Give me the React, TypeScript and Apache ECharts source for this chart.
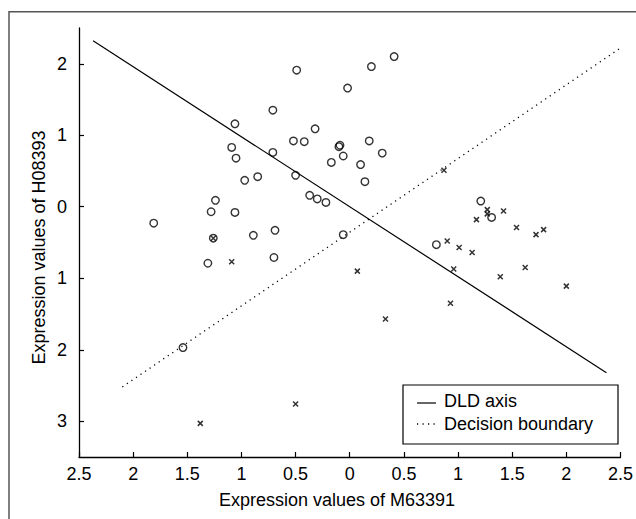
import React, { useEffect, useRef } from "react";
import * as echarts from "echarts";

// Class 1 samples (circles): [M63391, H08393]
const circlePoints: number[][] = [
  [-1.06, 1.16], [-1.09, 0.83], [-1.05, 0.68], [-0.97, 0.37], [-0.85, 0.42],
  [-1.24, 0.09], [-1.28, -0.07], [-1.06, -0.08], [-1.81, -0.23], [-0.49, 1.91],
  [0.20, 1.96], [0.41, 2.10], [-0.02, 1.66], [-0.71, 1.35], [-0.32, 1.09],
  [-0.52, 0.92], [-0.42, 0.91], [-0.10, 0.84], [-0.09, 0.86], [0.18, 0.92],
  [-0.71, 0.76], [-0.06, 0.71], [0.30, 0.75], [-0.17, 0.62], [0.10, 0.59],
  [-0.50, 0.44], [0.14, 0.35], [-0.37, 0.16], [-0.30, 0.11], [-0.22, 0.06],
  [-0.69, -0.33], [-0.89, -0.40], [-1.26, -0.44], [-1.31, -0.79], [-1.54, -1.97],
  [-0.70, -0.71], [-0.06, -0.39], [1.21, 0.08], [1.31, -0.15], [0.80, -0.53],
];

// Class 2 samples (crosses)
const crossPoints: number[][] = [
  [-1.26, -0.44], [-1.09, -0.77], [0.07, -0.90], [0.33, -1.57], [0.87, 0.51],
  [1.27, -0.04], [1.27, -0.10], [1.42, -0.06], [1.17, -0.18], [1.54, -0.29],
  [1.72, -0.39], [1.79, -0.32], [0.90, -0.48], [1.01, -0.57], [1.13, -0.64],
  [0.96, -0.87], [1.62, -0.85], [1.39, -0.98], [2.00, -1.11], [0.93, -1.35],
  [-0.50, -2.76], [-1.38, -3.03],
];

const dldAxis: number[][] = [[-2.37, 2.32], [2.37, -2.32]];
const decisionBoundary: number[][] = [[-2.1, -2.52], [2.49, 2.21]];

const yTicks: number[] = [-3, -2, -1, 0, 1, 2];

const xTitle = "Expression values of M63391";
const yTitle = "Expression values of H08393";
const legendNames = ["DLD axis", "Decision boundary"];

const FONT = "'Liberation Sans', Arial, Helvetica, sans-serif";

export default function App() {
  const ref = useRef<HTMLDivElement>(null);

  useEffect(() => {
    if (!ref.current) return;
    const chart = echarts.init(ref.current, null, { renderer: "svg" });
    const absFmt = (v: number) => String(Math.abs(Math.round(v * 10) / 10));
    chart.setOption({
      animation: false,
      backgroundColor: "#ffffff",
      grid: { left: 79, top: 28, width: 544, height: 429, containLabel: false },
      xAxis: {
        type: "value",
        min: -2.5,
        max: 2.5,
        interval: 0.5,
        axisLine: { show: true, onZero: false, lineStyle: { color: "#000", width: 1.3 } },
        axisTick: { show: true, inside: true, length: 5, lineStyle: { color: "#000", width: 1.2 } },
        axisLabel: { color: "#000", fontSize: 18, fontFamily: FONT, margin: 8, formatter: absFmt },
        splitLine: { show: false },
      },
      yAxis: {
        type: "value",
        min: -3.5,
        max: 2.5,
        axisLine: { show: true, onZero: false, lineStyle: { color: "#000", width: 1.3 } },
        axisTick: { show: true, inside: true, length: 5, customValues: yTicks, lineStyle: { color: "#000", width: 1.2 } },
        axisLabel: { color: "#000", fontSize: 18, fontFamily: FONT, margin: 12, customValues: yTicks, formatter: absFmt },
        splitLine: { show: false },
      },
      series: [
        {
          name: "Class 1",
          type: "scatter",
          data: circlePoints,
          symbol: "circle",
          symbolSize: 7.5,
          itemStyle: { color: "rgba(0,0,0,0)", borderColor: "#000", borderWidth: 1.4 },
        },
        {
          name: "Class 2",
          type: "scatter",
          data: crossPoints,
          symbol: "path://M0,0L10,10M10,0L0,10",
          symbolSize: 5,
          itemStyle: { color: "#000", borderColor: "#000", borderWidth: 1.5 },
        },
        {
          name: legendNames[0],
          type: "line",
          data: dldAxis,
          symbol: "none",
          lineStyle: { color: "#000", width: 1.2 },
        },
        {
          name: legendNames[1],
          type: "line",
          data: decisionBoundary,
          symbol: "none",
          lineStyle: { color: "#000", width: 1.3, type: [1.2, 4.3] },
        },
      ],
      graphic: [
        {
          type: "rect",
          shape: { x: 9, y: 11.7, width: 800, height: 700 },
          style: { fill: "none", stroke: "#555", lineWidth: 1.5 },
          silent: true,
        },
        {
          type: "text",
          x: 337,
          y: 499.5,
          style: { text: xTitle, fill: "#000", font: `18px ${FONT}`, textAlign: "center", textVerticalAlign: "middle" },
        },
        {
          type: "text",
          x: 38.5,
          y: 247.5,
          rotation: Math.PI / 2,
          style: { text: yTitle, fill: "#000", font: `18px ${FONT}`, textAlign: "center", textVerticalAlign: "middle" },
        },
        {
          type: "rect",
          shape: { x: 403, y: 385, width: 215, height: 59 },
          style: { fill: "#fff", stroke: "#000", lineWidth: 1.2 },
          z: 10,
        },
        {
          type: "line",
          shape: { x1: 417, y1: 403, x2: 436, y2: 403 },
          style: { stroke: "#000", lineWidth: 1.2 },
          z: 11,
        },
        {
          type: "line",
          shape: { x1: 417, y1: 424, x2: 437, y2: 424 },
          style: { stroke: "#000", lineWidth: 1.3, lineDash: [1.2, 4.3] },
          z: 11,
        },
        {
          type: "text",
          x: 444,
          y: 400.5,
          style: { text: legendNames[0], fill: "#000", font: `18px ${FONT}`, textAlign: "left", textVerticalAlign: "middle" },
          z: 11,
        },
        {
          type: "text",
          x: 444,
          y: 423.5,
          style: { text: legendNames[1], fill: "#000", font: `18px ${FONT}`, textAlign: "left", textVerticalAlign: "middle" },
          z: 11,
        },
      ],
    });
    return () => chart.dispose();
  }, []);

  return (
    <div
      ref={ref}
      style={{ position: "fixed", left: 0, top: 0, width: 636, height: 519, background: "#fff" }}
    />
  );
}
